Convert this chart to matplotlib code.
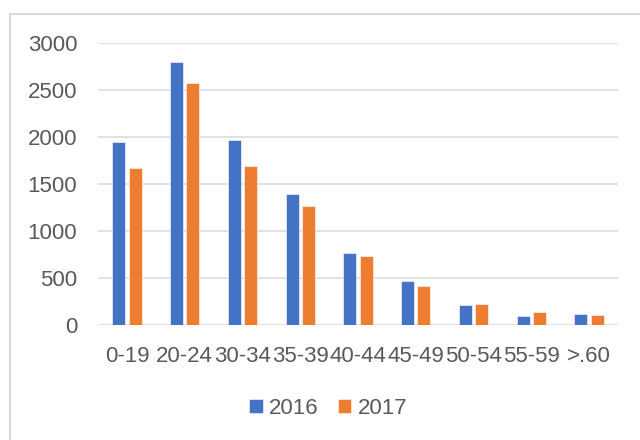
import numpy as np
import matplotlib.pyplot as plt
from matplotlib.patches import Rectangle

# Age groups and counts per year
categories = ['0-19', '20-24', '30-34', '35-39', '40-44', '45-49', '50-54', '55-59', '>.60']
values_2016 = [1952, 2800, 1970, 1392, 767, 469, 213, 96, 117]
values_2017 = [1668, 2574, 1690, 1271, 732, 419, 220, 135, 106]
y_ticks = [0, 500, 1000, 1500, 2000, 2500, 3000]

blue = '#4472C4'
orange = '#ED7D31'
text_col = '#595959'
grid_col = '#D9D9D9'

plt.rcParams['font.family'] = ['Liberation Sans', 'DejaVu Sans']

fig = plt.figure(figsize=(6.4, 4.4), dpi=100)

# chart border (only top and left edges are visible in the crop)
fig.patches.append(Rectangle((10 / 640, -0.1), 1.0, 1.1 - 14 / 440,
                             transform=fig.transFigure, fill=False,
                             edgecolor=grid_col, linewidth=1.5))

ax = fig.add_axes([98 / 640, 1 - 325 / 440, 520 / 640, 282 / 440])

x = np.arange(len(categories))
w = 0.225
off = 0.142
ax.bar(x - off, values_2016, w, color=blue, label='2016', zorder=3,
       edgecolor='white', linewidth=0.4)
ax.bar(x + off, values_2017, w, color=orange, label='2017', zorder=3,
       edgecolor='white', linewidth=0.4)

ax.set_xlim(-0.5, len(categories) - 0.5)
ax.set_ylim(0, 3000)
ax.set_yticks(y_ticks)
ax.set_xticks(x)
ax.set_xticklabels(categories)

ax.yaxis.grid(True, color=grid_col, linewidth=1.1, zorder=0)
ax.set_axisbelow(True)
for s in ax.spines.values():
    s.set_visible(False)
ax.tick_params(axis='both', length=0, labelsize=16, labelcolor=text_col)
ax.tick_params(axis='x', pad=15)
ax.tick_params(axis='y', pad=15)

fig.legend(loc='center', bbox_to_anchor=(0.513, 1 - 408 / 440), ncol=2,
           frameon=False, fontsize=16, labelcolor=text_col,
           handlelength=0.6, handleheight=0.6, handletextpad=0.3,
           columnspacing=0.85)

fig.savefig('out.png', dpi=100)
